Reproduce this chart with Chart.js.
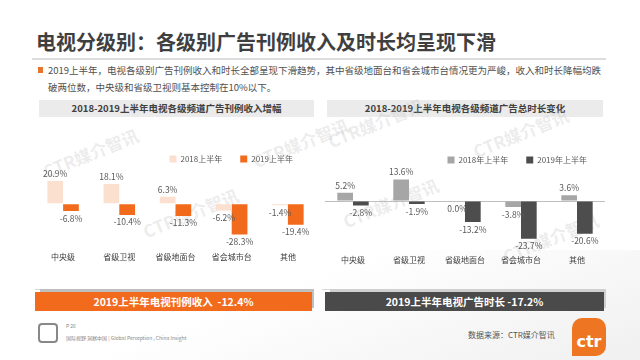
<!DOCTYPE html>
<html>
<head>
<meta charset="utf-8">
<script src="https://cdn.jsdelivr.net/npm/chart.js@4.4.1/dist/chart.umd.min.js"></script>
<style>
  body { margin:0; width:640px; height:360px; overflow:hidden; background:#fff; font-family:"Noto Sans CJK SC","Noto Sans",sans-serif; position:relative; }
  .abs { position:absolute; }
  #title { left:36px; top:27px; font-size:20px; font-weight:bold; color:#3f3f3f; white-space:nowrap; }
  #titleLine { left:32px; top:58px; width:574px; height:2px; background:#dcdcdc; }
  #bullet { left:38px; top:67px; width:5px; height:6px; background:#e8732a; }
  #desc { left:48px; top:62px; font-size:9.5px; line-height:17px; color:#505050; white-space:nowrap; }
  .band { height:17px; background:#ebebeb; font-size:9.5px; font-weight:bold; color:#404040; text-align:center; line-height:17px; }
  .sep { height:1px; background:#d9d9d9; }
  .banner { height:19px; color:#fff; font-size:10.5px; font-weight:bold; text-align:center; line-height:19px; white-space:pre; }
  .shadow { height:19px; background:#bfbfbf; }
  .wm { color:rgba(190,190,190,0.28); font-size:17px; font-weight:bold; transform:rotate(-22deg); white-space:nowrap; }
  #foot1 { left:66px; top:322px; font-size:5px; color:#888; }
  #foot2 { left:66px; top:334px; font-size:5px; color:#888; white-space:nowrap; }
  #source { left:468px; top:329px; font-size:8px; color:#555; }
  #logo { left:572px; top:318px; width:34px; height:38px; background:#ee7623; border-radius:10px 10px 10px 0; color:#fff; font:bold 16px "DejaVu Sans",sans-serif; line-height:48px; text-align:center; }
  #icon { left:38px; top:323px; width:16px; height:16px; border:2px solid #888; border-radius:4px; }
</style>
</head>
<body>
<div class="abs" style="left:0;top:250px;width:640px;height:110px;background:linear-gradient(160deg,rgba(255,255,255,0) 40%,rgba(225,225,225,0.5) 100%);"></div>

<div id="title" class="abs">电视分级别：各级别广告刊例收入及时长均呈现下滑</div>
<div id="titleLine" class="abs"></div>
<div id="bullet" class="abs"></div>
<div id="desc" class="abs">2019上半年，电视各级别广告刊例收入和时长全部呈现下滑趋势，其中省级地面台和省会城市台情况更为严峻，收入和时长降幅均跌<br>破两位数，中央级和省级卫视则基本控制在10%以下。</div>

<div class="abs band" style="left:39px;top:100px;width:275px;">2018-2019上半年电视各级频道广告刊例收入增幅</div>
<div class="abs band" style="left:327px;top:100px;width:276px;">2018-2019上半年电视各级频道广告总时长变化</div>

<div class="abs wm" style="left:40px;top:140px;">CTR媒介智讯</div>
<div class="abs wm" style="left:140px;top:200px;">CTR媒介智讯</div>
<div class="abs wm" style="left:250px;top:130px;">CTR媒介智讯</div>
<div class="abs wm" style="left:325px;top:110px;">CTR媒介智讯</div>
<div class="abs wm" style="left:340px;top:190px;">CTR媒介智讯</div>
<div class="abs wm" style="left:470px;top:120px;">CTR媒介智讯</div>
<div class="abs wm" style="left:500px;top:225px;">CTR媒介智讯</div>

<div class="abs" style="left:35px;top:137px;width:281px;height:139px;"><canvas id="revenueChart"></canvas></div>
<div class="abs" style="left:325px;top:138px;width:280px;height:140px;"><canvas id="durationChart"></canvas></div>

<div class="abs sep" style="left:35px;top:289px;width:278px;"></div>
<div class="abs sep" style="left:322px;top:289px;width:280px;"></div>

<div class="abs shadow" style="left:40px;top:289px;width:274px;"></div>
<div class="abs banner" style="left:35px;top:292px;width:277px;background:#f26b1d;">2019上半年电视刊例收入  -12.4%</div>
<div class="abs shadow" style="left:330px;top:289px;width:276px;background:#d0d0d0;"></div>
<div class="abs banner" style="left:325px;top:292px;width:279px;background:#4a4a4a;">2019上半年电视广告时长 -17.2%</div>

<div id="icon" class="abs"></div>
<div id="foot1" class="abs">P 26</div>
<div id="foot2" class="abs">国际视野 洞察中国 | Global Perception , China Insight</div>
<div id="source" class="abs">数据来源：CTR媒介智讯</div>
<div id="logo" class="abs">ctr</div>

<script>
// 数据
const categories = ['中央级', '省级卫视', '省级地面台', '省会城市台', '其他'];
const revenueNames = ['2018上半年', '2019上半年'];
const durationNames = ['2018年上半年', '2019年上半年'];
const revenue2018 = [20.9, 18.1, 6.3, -6.2, -1.4];
const revenue2019 = [-6.8, -10.4, -11.3, -28.3, -19.4];
const duration2018 = [5.2, 13.6, 0.0, -3.8, 3.6];
const duration2019 = [-2.8, -1.9, -13.2, -23.7, -20.6];

const fontCJK = '"Noto Sans CJK SC", "Noto Sans", sans-serif';

// etiquetas de valor encima / debajo de cada barra
const valueLabels = {
  id: 'valueLabels',
  afterDatasetsDraw(chart) {
    const ctx = chart.ctx;
    ctx.save();
    ctx.font = '8.5px ' + fontCJK;
    ctx.fillStyle = '#595959';
    ctx.textAlign = 'center';
    chart.data.datasets.forEach((ds, i) => {
      chart.getDatasetMeta(i).data.forEach((bar, j) => {
        const v = ds.data[j];
        const txt = v.toFixed(1) + '%';
        if (v > 0) {
          ctx.textBaseline = 'bottom';
          ctx.fillText(txt, bar.x, bar.y - 3);
        } else {
          ctx.textBaseline = 'top';
          ctx.fillText(txt, bar.x, bar.y + 3);
        }
      });
    });
    ctx.restore();
  }
};

// mover la leyenda un poco a la izquierda
const legendShift = {
  id: 'legendShift',
  afterLayout(chart, args, opts) {
    if (chart.legend) chart.legend.right -= opts.dx || 0;
  }
};

function makeChart(id, names, d2018, d2019, colors, yMin, yMax, zeroLine, dx, tickPad) {
  return new Chart(document.getElementById(id), {
    type: 'bar',
    data: {
      labels: categories,
      datasets: [
        { label: names[0], data: d2018, backgroundColor: colors[0], categoryPercentage: 0.56, barPercentage: 1 },
        { label: names[1], data: d2019, backgroundColor: colors[1], categoryPercentage: 0.56, barPercentage: 1 }
      ]
    },
    options: {
      responsive: true,
      maintainAspectRatio: false,
      animation: false,
      layout: { padding: 0 },
      plugins: {
        legend: {
          align: 'end',
          labels: { boxWidth: 7, boxHeight: 7, padding: 18, color: '#595959', font: { family: fontCJK, size: 8 } }
        },
        legendShift: { dx: dx },
        tooltip: { enabled: false }
      },
      scales: {
        x: {
          grid: { display: false, drawTicks: false },
          border: { display: false },
          ticks: { color: '#404040', padding: tickPad, font: { family: fontCJK, size: 8 } }
        },
        y: {
          min: yMin,
          max: yMax,
          ticks: { display: false, stepSize: 1 },
          border: { display: false },
          grid: {
            drawTicks: false,
            color: (c) => (zeroLine && c.tick && c.tick.value === 0 ? '#bfbfbf' : 'rgba(0,0,0,0)')
          }
        }
      }
    },
    plugins: [valueLabels, legendShift]
  });
}

makeChart('revenueChart', revenueNames, revenue2018, revenue2019, ['#fce0cf', '#f26b1d'], -32, 28.3, false, 5, 14);
makeChart('durationChart', durationNames, duration2018, duration2019, ['#a6a6a6', '#4d4d4d'], -26, 17, true, 0, 13);
</script>
</body>
</html>
